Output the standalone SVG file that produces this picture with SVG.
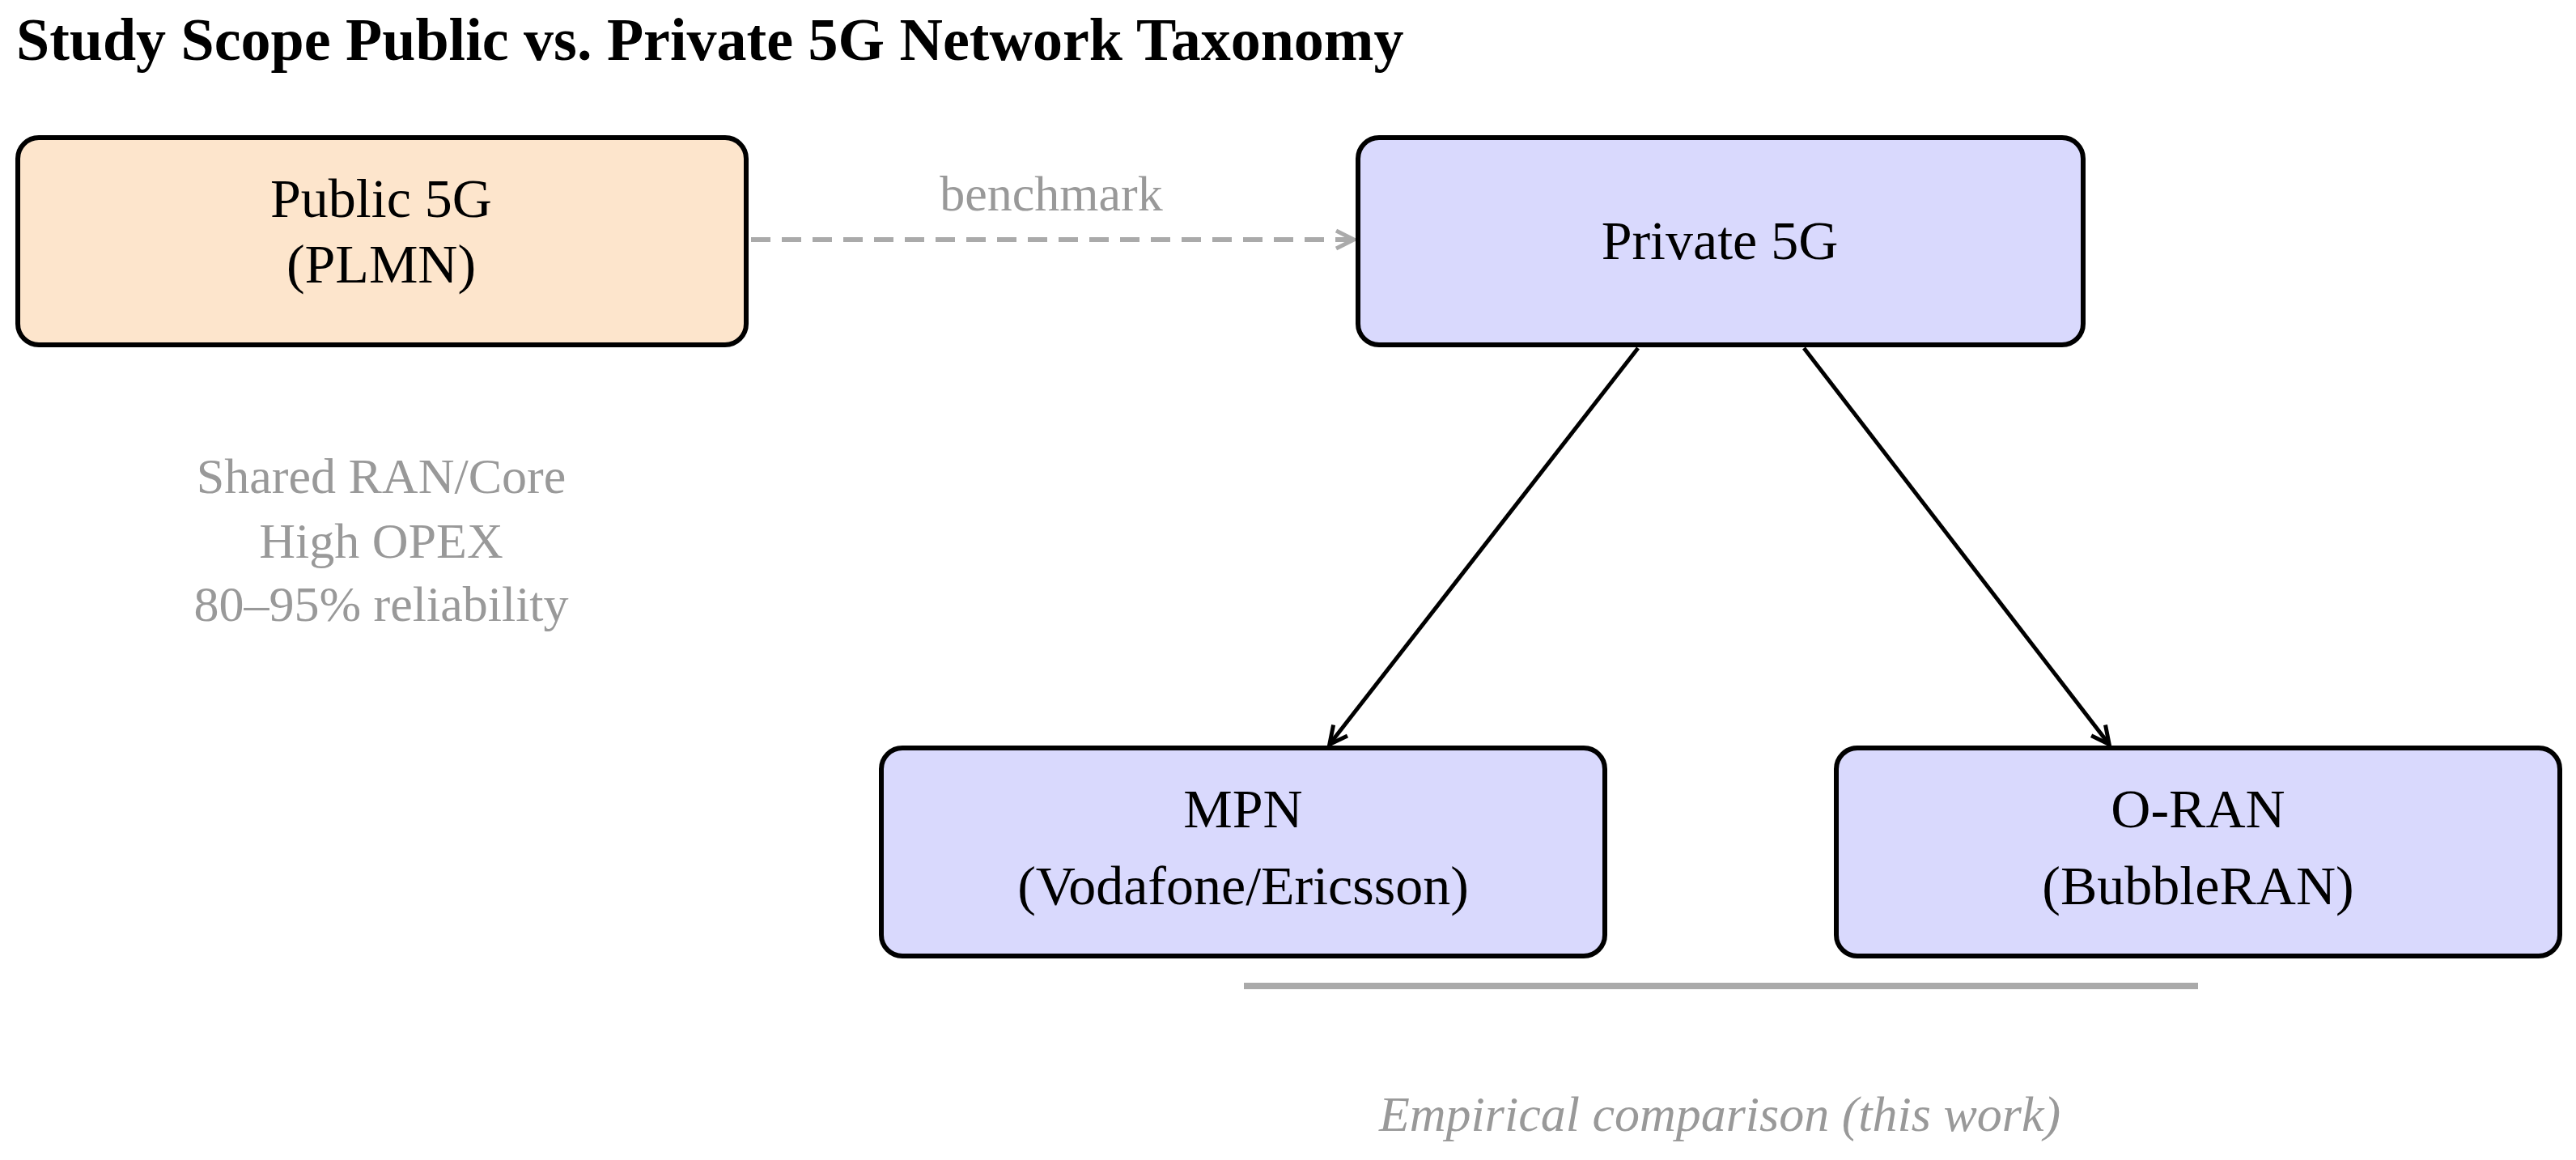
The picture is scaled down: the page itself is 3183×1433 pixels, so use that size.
<svg xmlns="http://www.w3.org/2000/svg" width="3183" height="1433" viewBox="0 0 3183 1433">
<style>
.box{stroke:#000;stroke-width:6}
.t{font-family:"Liberation Serif","DejaVu Serif",serif;font-size:68px;text-anchor:middle;fill:#000}
.g{font-family:"Liberation Serif","DejaVu Serif",serif;font-size:62px;text-anchor:middle;fill:#999}
</style>
<defs>
<marker id="ak" markerWidth="10" markerHeight="10" refX="8" refY="5" orient="auto" markerUnits="userSpaceOnUse" viewBox="0 0 10 10"><path d="M0,0 L9,5 L0,10" fill="none" stroke="#000" stroke-width="1.5"/></marker>
<marker id="ag" markerWidth="30" markerHeight="30" refX="24" refY="15" orient="auto" markerUnits="userSpaceOnUse"><path d="M4,4 L26,15 L4,26" fill="none" stroke="#aaa" stroke-width="5"/></marker>
<marker id="ab" markerWidth="30" markerHeight="30" refX="24" refY="15" orient="auto" markerUnits="userSpaceOnUse"><path d="M4,4 L26,15 L4,26" fill="none" stroke="#000" stroke-width="5"/></marker>
</defs>
<rect width="3183" height="1433" fill="#fff"/>
<text x="20" y="74" font-family="Liberation Serif,DejaVu Serif,serif" font-weight="bold" font-size="74" fill="#000">Study Scope Public vs. Private 5G Network Taxonomy</text>
<g id="connectors">
<line x1="928" y1="296" x2="1671" y2="296" stroke="#aaa" stroke-width="6" stroke-dasharray="24,14" marker-end="url(#ag)"/>
<text class="g" x="1299" y="260">benchmark</text>
<line x1="2024" y1="430" x2="1644" y2="918" stroke="#000" stroke-width="5" marker-end="url(#ab)"/>
<line x1="2229" y1="430" x2="2605" y2="918" stroke="#000" stroke-width="5" marker-end="url(#ab)"/>
</g>
<g id="public">
<rect class="box" x="22" y="170" width="900" height="256" rx="26" fill="#fde5cc"/>
<text class="t" x="471" y="268">Public 5G</text>
<text class="t" x="471" y="349">(PLMN)</text>
</g>
<g id="private">
<rect class="box" x="1678" y="170" width="896" height="256" rx="26" fill="#d9d9fd"/>
<text class="t" x="2125" y="320">Private 5G</text>
</g>
<g id="mpn">
<rect class="box" x="1089" y="924" width="894" height="257" rx="26" fill="#d9d9fd"/>
<text class="t" x="1536" y="1022">MPN</text>
<text class="t" x="1536" y="1117">(Vodafone/Ericsson)</text>
</g>
<g id="oran">
<rect class="box" x="2269" y="924" width="894" height="257" rx="26" fill="#d9d9fd"/>
<text class="t" x="2716" y="1022">O-RAN</text>
<text class="t" x="2716" y="1117">(BubbleRAN)</text>
</g>
<g id="notes">
<text class="g" x="471" y="609">Shared RAN/Core</text>
<text class="g" x="471" y="689">High OPEX</text>
<text class="g" x="471" y="767">80–95% reliability</text>
<line x1="1537" y1="1218" x2="2716" y2="1218" stroke="#aaa" stroke-width="8"/>
<text class="g" x="2125" y="1397" font-style="italic">Empirical comparison (this work)</text>
</g>
</svg>
